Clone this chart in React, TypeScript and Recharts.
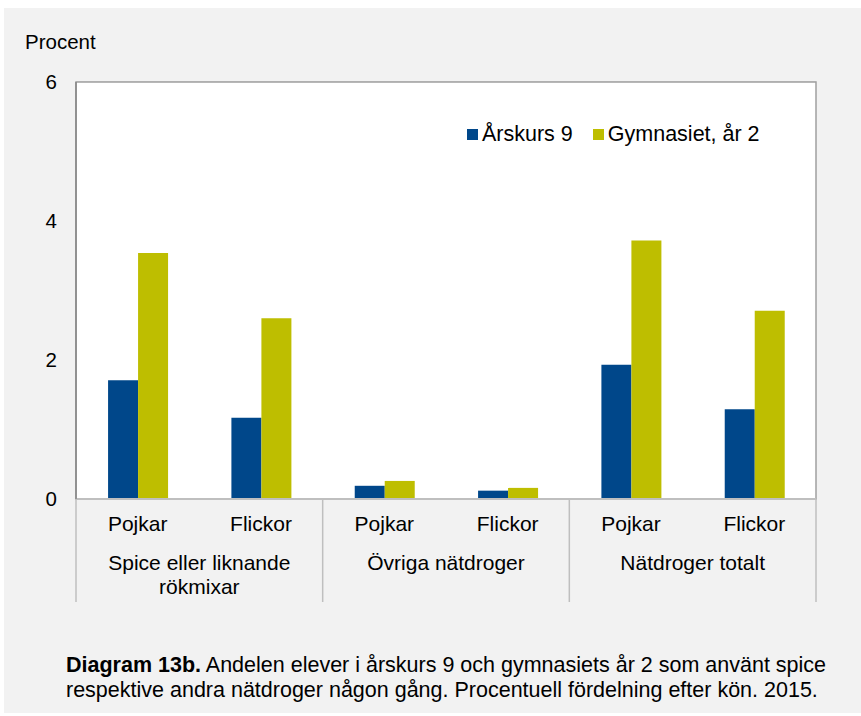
import { BarChart, Bar, XAxis, YAxis, CartesianGrid, ReferenceArea } from 'recharts';

const groups = ['Spice eller liknande\nrökmixar', 'Övriga nätdroger', 'Nätdroger totalt'];
const genders = ['Pojkar', 'Flickor'];
const arskurs9 = [1.71, 1.17, 0.19, 0.12, 1.93, 1.29];
const gymnasiet = [3.54, 2.6, 0.26, 0.16, 3.72, 2.71];
const yTicks = [0, 2, 4, 6];

const series = [
  { key: 'ak9', name: 'Årskurs 9', color: '#00478a' },
  { key: 'gy2', name: 'Gymnasiet, år 2', color: '#bebe00' },
];

const data = groups.flatMap((grupp, gi) =>
  genders.map((kon, ki) => ({
    id: `${gi}-${kon}`,
    kon,
    grupp,
    ak9: arskurs9[gi * 2 + ki],
    gy2: gymnasiet[gi * 2 + ki],
  }))
);

const FONT = '"Liberation Sans", Arial, sans-serif';

function GroupTick(props: any) {
  const { x, y, payload, index } = props;
  const half = payload?.offset ?? 61.6;
  const row = data[index];
  if (!row) return null;
  const first = index % 2 === 0;
  const last = index === data.length - 1;
  return (
    <g>
      <text x={x} y={y + 32} textAnchor="middle" fontSize={21} fill="#000" fontFamily={FONT}>
        {row.kon}
      </text>
      {first && <line x1={x - half} x2={x - half} y1={y} y2={y + 103} stroke="#bfbfbf" strokeWidth={1.5} />}
      {last && <line x1={x + half} x2={x + half} y1={y} y2={y + 103} stroke="#bfbfbf" strokeWidth={1.5} />}
      {first &&
        row.grupp.split('\n').map((line, i) => (
          <text key={i} x={x + half} y={y + 71 + i * 24} textAnchor="middle" fontSize={21} fill="#000" fontFamily={FONT}>
            {line}
          </text>
        ))}
    </g>
  );
}

export default function App() {
  return (
    <div style={{ position: 'absolute', left: 0, top: 0, width: 861, height: 716, background: '#fff', fontFamily: FONT }}>
      <div style={{ position: 'absolute', left: 4, top: 8, width: 857, height: 705, background: '#f2f2f2' }} />
      <div style={{ position: 'absolute', left: 0, top: 0 }}>
        <BarChart
          width={861}
          height={716}
          data={data}
          margin={{ top: 82, right: 45, bottom: 0, left: 0 }}
          barCategoryGap="26%"
          barGap={0}
        >
          <ReferenceArea y1={0} y2={6} fill="#ffffff" fillOpacity={1} stroke="none" />
          <CartesianGrid vertical={false} stroke="#d9d9d9" strokeWidth={1.5} />
          <ReferenceArea y1={0} y2={6} fill="none" stroke="#a0a0a0" strokeWidth={1.5} />
          <XAxis
            dataKey="id"
            height={217}
            interval={0}
            axisLine={{ stroke: '#bfbfbf', strokeWidth: 2 }}
            tickLine={false}
            tickSize={0}
            tickMargin={0}
            tick={<GroupTick />}
          />
          <YAxis
            width={76}
            domain={[0, 6]}
            ticks={yTicks}
            axisLine={{ stroke: '#868686', strokeWidth: 1.5 }}
            tickLine={false}
            tickSize={0}
            tickMargin={19}
            tick={{ fontSize: 20.5, fill: '#000', fontFamily: FONT }}
          />
          {series.map((s) => (
            <Bar key={s.key} dataKey={s.key} name={s.name} fill={s.color} isAnimationActive={false} />
          ))}
        </BarChart>
      </div>
      <div style={{ position: 'absolute', left: 25, top: 30, fontSize: 20.5, color: '#000', lineHeight: '24px' }}>Procent</div>
      <div style={{ position: 'absolute', left: 467, top: 122, display: 'flex', alignItems: 'center', fontSize: 21.5, lineHeight: '24px', color: '#000' }}>
        {series.map((s, i) => (
          <div key={s.key} style={{ display: 'flex', alignItems: 'center', marginLeft: i === 0 ? 0 : 20 }}>
            <div style={{ width: 11, height: 11, background: s.color, marginRight: 4 }} />
            <span>{s.name}</span>
          </div>
        ))}
      </div>
      <div style={{ position: 'absolute', left: 66, top: 653, fontSize: 21.5, lineHeight: '25px', color: '#000' }}>
        <b>Diagram 13b.</b> Andelen elever i årskurs 9 och gymnasiets år 2 som använt spice
        <br />
        respektive andra nätdroger någon gång. Procentuell fördelning efter kön. 2015.
      </div>
    </div>
  );
}
